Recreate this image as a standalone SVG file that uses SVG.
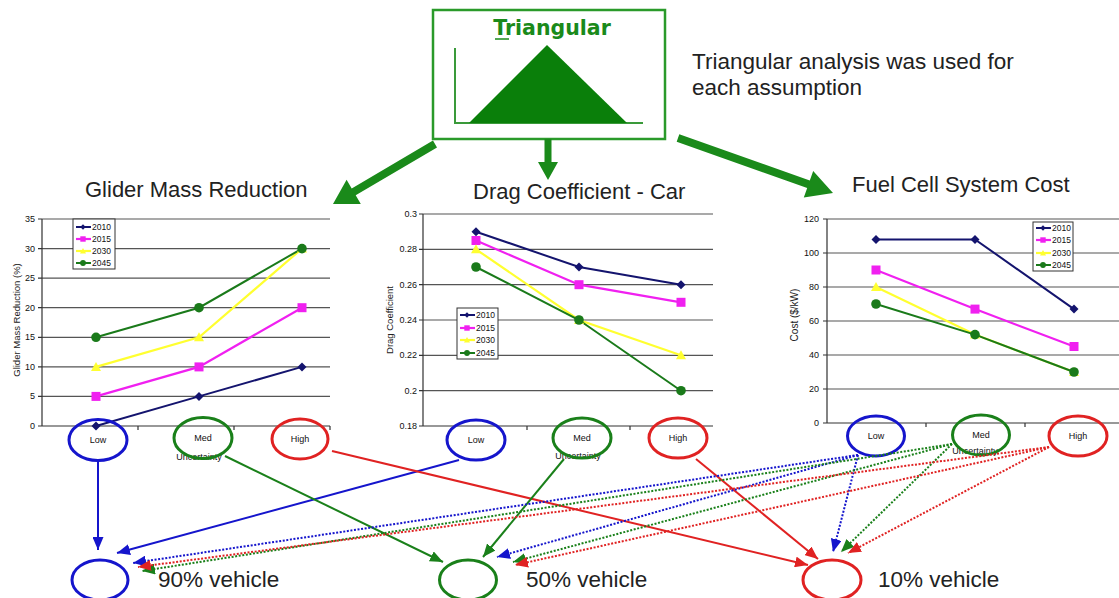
<svg xmlns="http://www.w3.org/2000/svg" width="1119" height="598" viewBox="0 0 1119 598">
<defs>
<style>
.t{font-family:"Liberation Sans",Arial,sans-serif;fill:#222}
.title{font-size:22px}
.ax{font-size:9px;fill:#111}
.lg{font-size:8.5px;fill:#111}
.cat{font-size:9px;fill:#111;text-anchor:middle}
.grid{stroke:#555;stroke-width:1.2}
.axis{stroke:#333;stroke-width:1.2;fill:none}
.box{fill:#fff;stroke:#333;stroke-width:1}
.s1{stroke:#14146e;fill:none;stroke-width:2}
.s2{stroke:#f020f0;fill:none;stroke-width:2.2}
.s3{stroke:#ffff30;fill:none;stroke-width:2.2}
.s4{stroke:#1a7a1a;fill:none;stroke-width:2}
.m1{fill:#14146e}.m2{fill:#f020f0}.m3{fill:#ffff30}.m4{fill:#1a7a1a}
.eb{fill:none;stroke:#1515cc;stroke-width:3}
.eg{fill:none;stroke:#1a801a;stroke-width:3}
.er{fill:none;stroke:#e02222;stroke-width:3}
.cb{stroke:#1515cc;stroke-width:2;fill:none}
.cg{stroke:#1a801a;stroke-width:2;fill:none}
.cr{stroke:#e02222;stroke-width:2;fill:none}
.dot{stroke-dasharray:2 1.6}
.big{fill:#1a8a1a}
</style>
<path id="dia" d="M0,-4.5 L4.5,0 L0,4.5 L-4.5,0z"/>
<rect id="sq" x="-4.5" y="-4.5" width="9" height="9"/>
<path id="tri" d="M0,-5 L5,4 L-5,4z"/>
<circle id="cir" r="4.8"/>
<marker id="hb" markerUnits="userSpaceOnUse" markerWidth="13" markerHeight="11" refX="13" refY="5.5" orient="auto"><path d="M0,0 L13,5.5 L0,11z" fill="#1515cc"/></marker>
<marker id="hg" markerUnits="userSpaceOnUse" markerWidth="13" markerHeight="11" refX="13" refY="5.5" orient="auto"><path d="M0,0 L13,5.5 L0,11z" fill="#1a801a"/></marker>
<marker id="hr" markerUnits="userSpaceOnUse" markerWidth="13" markerHeight="11" refX="13" refY="5.5" orient="auto"><path d="M0,0 L13,5.5 L0,11z" fill="#e02222"/></marker>
</defs>
<rect width="1119" height="598" fill="#fff"/>

<!-- Triangular box -->
<g id="triangular">
<rect x="433" y="10" width="232" height="129" fill="#fff" stroke="#2a9a2a" stroke-width="2.5"/>
<text x="552" y="35" text-anchor="middle" style="font-family:'DejaVu Sans',Verdana,sans-serif;font-weight:bold;font-size:20.5px;fill:#1a8a1a">Triangular</text>
<line x1="495" y1="39" x2="509" y2="39" stroke="#1a8a1a" stroke-width="1.5"/>
<polyline points="455,48 455,123 643,123" fill="none" stroke="#3a9a3a" stroke-width="2"/>
<polygon points="469,123 547,45 627,123" fill="#0a7f0a"/>
</g>
<g id="note">
<text class="t" x="692" y="69" style="font-size:22.5px">Triangular analysis was used for</text>
<text class="t" x="692" y="95" style="font-size:22.5px">each assumption</text>
</g>

<!-- Chart 1 -->
<g id="chart-glider">
<text class="t title" x="85" y="197">Glider Mass Reduction</text>
<g class="grid">
<line x1="42" y1="219" x2="330" y2="219"/><line x1="42" y1="248.6" x2="330" y2="248.6"/>
<line x1="42" y1="278.1" x2="330" y2="278.1"/><line x1="42" y1="307.7" x2="330" y2="307.7"/>
<line x1="42" y1="337.3" x2="330" y2="337.3"/><line x1="42" y1="366.9" x2="330" y2="366.9"/>
<line x1="42" y1="396.4" x2="330" y2="396.4"/>
</g>
<path class="axis" d="M42,219 V426 H330 M38,219 H42 M38,248.6 H42 M38,278.1 H42 M38,307.7 H42 M38,337.3 H42 M38,366.9 H42 M38,396.4 H42 M38,426 H42 M138,426 V430 M234,426 V430 M330,426 V430"/>
<g class="t ax" text-anchor="end">
<text x="35" y="222">35</text><text x="35" y="251.6">30</text><text x="35" y="281">25</text><text x="35" y="310.7">20</text>
<text x="35" y="340.3">15</text><text x="35" y="370">10</text><text x="35" y="399.4">5</text><text x="35" y="429">0</text>
</g>
<text class="t" transform="translate(20,320) rotate(-90)" text-anchor="middle" style="font-size:9.5px">Glider Mass Reduction (%)</text>
<polyline class="s1" points="96,426 199,396.4 302,366.9"/>
<polyline class="s2" points="96,396.4 199,366.9 302,307.7"/>
<polyline class="s3" points="96,366.9 199,337.3 302,248.6"/>
<polyline class="s4" points="96,337.3 199,307.7 302,248.6"/>
<g class="m1"><use href="#dia" x="96" y="426"/><use href="#dia" x="199" y="396.4"/><use href="#dia" x="302" y="366.9"/></g>
<g class="m2"><use href="#sq" x="96" y="396.4"/><use href="#sq" x="199" y="366.9"/><use href="#sq" x="302" y="307.7"/></g>
<g class="m3"><use href="#tri" x="96" y="366.9"/><use href="#tri" x="199" y="337.3"/><use href="#tri" x="302" y="248.6"/></g>
<g class="m4"><use href="#cir" x="96" y="337.3"/><use href="#cir" x="199" y="307.7"/><use href="#cir" x="302" y="248.6"/></g>
<rect class="box" x="73" y="219" width="42" height="50"/>
<line class="s1" x1="76" y1="227" x2="91" y2="227"/><use class="m1" href="#dia" transform="translate(83,227) scale(0.6)"/>
<line class="s2" x1="76" y1="239" x2="91" y2="239"/><use class="m2" href="#sq" transform="translate(83,239) scale(0.6)"/>
<line class="s3" x1="76" y1="251" x2="91" y2="251"/><use class="m3" href="#tri" transform="translate(83,251) scale(0.6)"/>
<line class="s4" x1="76" y1="263" x2="91" y2="263"/><use class="m4" href="#cir" transform="translate(83,263) scale(0.6)"/>
<g class="t lg"><text x="92" y="230">2010</text><text x="92" y="242">2015</text><text x="92" y="254">2030</text><text x="92" y="266">2045</text></g>
<text class="t cat" x="199" y="460">Uncertainty</text>
</g>

<!-- Chart 2 -->
<g id="chart-drag">
<text class="t title" x="473" y="199">Drag Coefficient - Car</text>
<g class="grid">
<line x1="423" y1="214" x2="713" y2="214"/><line x1="423" y1="249.3" x2="713" y2="249.3"/>
<line x1="423" y1="284.7" x2="713" y2="284.7"/><line x1="423" y1="320" x2="713" y2="320"/>
<line x1="423" y1="355.3" x2="713" y2="355.3"/><line x1="423" y1="390.7" x2="713" y2="390.7"/>
</g>
<path class="axis" d="M423,214 V426 H713 M419,214 H423 M419,249.3 H423 M419,284.7 H423 M419,320 H423 M419,355.3 H423 M419,390.7 H423 M419,426 H423 M527,426 V430 M630,426 V430"/>
<g class="t ax" text-anchor="end">
<text x="417" y="217">0.3</text><text x="417" y="252.3">0.28</text><text x="417" y="287.7">0.26</text><text x="417" y="323">0.24</text>
<text x="417" y="358.3">0.22</text><text x="417" y="393.7">0.2</text><text x="417" y="429">0.18</text>
</g>
<text class="t" transform="translate(393,320) rotate(-90)" text-anchor="middle" style="font-size:9.5px">Drag Coefficient</text>
<polyline class="s1" points="476,231.7 579,267 681,284.7"/>
<polyline class="s2" points="476,240.5 579,284.7 681,302.3"/>
<polyline class="s3" points="476,249.3 579,320 681,355.3"/>
<polyline class="s4" points="476,267 579,320 681,390.7"/>
<g class="m1"><use href="#dia" x="476" y="231.7"/><use href="#dia" x="579" y="267"/><use href="#dia" x="681" y="284.7"/></g>
<g class="m2"><use href="#sq" x="476" y="240.5"/><use href="#sq" x="579" y="284.7"/><use href="#sq" x="681" y="302.3"/></g>
<g class="m3"><use href="#tri" x="476" y="249.3"/><use href="#tri" x="579" y="320"/><use href="#tri" x="681" y="355.3"/></g>
<g class="m4"><use href="#cir" x="476" y="267"/><use href="#cir" x="579" y="320"/><use href="#cir" x="681" y="390.7"/></g>
<rect class="box" x="457" y="308" width="41" height="51"/>
<line class="s1" x1="460" y1="315" x2="475" y2="315"/><use class="m1" href="#dia" transform="translate(467,315) scale(0.6)"/>
<line class="s2" x1="460" y1="328" x2="475" y2="328"/><use class="m2" href="#sq" transform="translate(467,328) scale(0.6)"/>
<line class="s3" x1="460" y1="340" x2="475" y2="340"/><use class="m3" href="#tri" transform="translate(467,340) scale(0.6)"/>
<line class="s4" x1="460" y1="353" x2="475" y2="353"/><use class="m4" href="#cir" transform="translate(467,353) scale(0.6)"/>
<g class="t lg"><text x="476" y="318">2010</text><text x="476" y="331">2015</text><text x="476" y="343">2030</text><text x="476" y="356">2045</text></g>
<text class="t cat" x="578" y="459">Uncertainty</text>
</g>

<!-- Chart 3 -->
<g id="chart-fuelcell">
<text class="t title" x="852" y="192">Fuel Cell System Cost</text>
<g class="grid">
<line x1="827" y1="219" x2="1119" y2="219"/><line x1="827" y1="253" x2="1119" y2="253"/>
<line x1="827" y1="287" x2="1119" y2="287"/><line x1="827" y1="321" x2="1119" y2="321"/>
<line x1="827" y1="355" x2="1119" y2="355"/><line x1="827" y1="389" x2="1119" y2="389"/>
</g>
<path class="axis" d="M827,219 V423 H1119 M823,219 H827 M823,253 H827 M823,287 H827 M823,321 H827 M823,355 H827 M823,389 H827 M823,423 H827 M926,423 V427 M1025,423 V427"/>
<g class="t ax" text-anchor="end">
<text x="819" y="222">120</text><text x="819" y="256">100</text><text x="819" y="290">80</text><text x="819" y="324">60</text>
<text x="819" y="358">40</text><text x="819" y="392">20</text><text x="819" y="426">0</text>
</g>
<text class="t" transform="translate(798,315) rotate(-90)" text-anchor="middle" style="font-size:10px">Cost ($/kW)</text>
<polyline class="s1" points="876,239.4 975,239.4 1074,309.1"/>
<polyline class="s2" points="876,270 975,309.1 1074,346.5"/>
<polyline class="s3" points="876,287 975,334.6 1074,372"/>
<polyline class="s4" points="876,304 975,334.6 1074,372"/>
<g class="m1"><use href="#dia" x="876" y="239.4"/><use href="#dia" x="975" y="239.4"/><use href="#dia" x="1074" y="309.1"/></g>
<g class="m2"><use href="#sq" x="876" y="270"/><use href="#sq" x="975" y="309.1"/><use href="#sq" x="1074" y="346.5"/></g>
<g class="m3"><use href="#tri" x="876" y="287"/><use href="#tri" x="975" y="334.6"/><use href="#tri" x="1074" y="372"/></g>
<g class="m4"><use href="#cir" x="876" y="304"/><use href="#cir" x="975" y="334.6"/><use href="#cir" x="1074" y="372"/></g>
<rect class="box" x="1033" y="222" width="40" height="49"/>
<line class="s1" x1="1036" y1="228" x2="1051" y2="228"/><use class="m1" href="#dia" transform="translate(1043,228) scale(0.6)"/>
<line class="s2" x1="1036" y1="240" x2="1051" y2="240"/><use class="m2" href="#sq" transform="translate(1043,240) scale(0.6)"/>
<line class="s3" x1="1036" y1="253" x2="1051" y2="253"/><use class="m3" href="#tri" transform="translate(1043,253) scale(0.6)"/>
<line class="s4" x1="1036" y1="265" x2="1051" y2="265"/><use class="m4" href="#cir" transform="translate(1043,265) scale(0.6)"/>
<g class="t lg"><text x="1052" y="231">2010</text><text x="1052" y="243">2015</text><text x="1052" y="256">2030</text><text x="1052" y="268">2045</text></g>
<text class="t cat" x="975" y="454">Uncertainty</text>
</g>

<!-- category ellipses -->
<g id="glider-low"><ellipse class="eb" cx="98" cy="440" rx="29" ry="20.5"/><text class="t cat" x="98" y="443">Low</text></g>
<g id="glider-med"><ellipse class="eg" cx="203" cy="438" rx="29" ry="20.5"/><text class="t cat" x="203" y="441">Med</text></g>
<g id="glider-high"><ellipse class="er" cx="300" cy="439" rx="28" ry="20"/><text class="t cat" x="300" y="442">High</text></g>
<g id="drag-low"><ellipse class="eb" cx="476" cy="440" rx="29" ry="20"/><text class="t cat" x="476" y="443">Low</text></g>
<g id="drag-med"><ellipse class="eg" cx="582" cy="438" rx="29" ry="20"/><text class="t cat" x="582" y="441">Med</text></g>
<g id="drag-high"><ellipse class="er" cx="678" cy="438" rx="29" ry="20"/><text class="t cat" x="678" y="441">High</text></g>
<g id="fc-low"><ellipse class="eb" cx="876" cy="436" rx="28.5" ry="20"/><text class="t cat" x="876" y="439">Low</text></g>
<g id="fc-med"><ellipse class="eg" cx="981" cy="435" rx="28.5" ry="20"/><text class="t cat" x="981" y="438">Med</text></g>
<g id="fc-high"><ellipse class="er" cx="1078" cy="436" rx="29" ry="20"/><text class="t cat" x="1078" y="439">High</text></g>

<!-- vehicles -->
<g id="v90"><ellipse class="eb" cx="100" cy="580" rx="28" ry="20"/><text class="t" x="158" y="587" style="font-size:22.5px">90% vehicle</text></g>
<g id="v50"><ellipse class="eg" cx="468" cy="580" rx="28.5" ry="20"/><text class="t" x="526" y="587" style="font-size:22.5px">50% vehicle</text></g>
<g id="v10"><ellipse class="er" cx="832" cy="580" rx="29" ry="20"/><text class="t" x="878" y="587" style="font-size:22.5px">10% vehicle</text></g>

<!-- connectors -->
<g id="connectors">
<polygon class="big" points="437,147.4 355.7,195.2 360.8,203.9 333,204 346.6,179.7 351.7,188.4 433,140.6"/>
<polygon class="big" points="544.5,139 544.5,162 538,162 548,180 558,162 551.5,162 551.5,139"/>
<polygon class="big" points="676.7,141.8 807.2,188.1 803.8,197.5 833,193 813.2,171.1 809.8,180.5 679.3,134.2"/>

<line class="cb" x1="98" y1="462" x2="98" y2="550" marker-end="url(#hb)"/>
<line class="cb" x1="459" y1="460" x2="117" y2="553" marker-end="url(#hb)"/>
<line class="cg" x1="225" y1="456" x2="443" y2="562" marker-end="url(#hg)"/>
<line class="cr" x1="332" y1="451" x2="808" y2="565" marker-end="url(#hr)"/>
<line class="cg" x1="564" y1="459" x2="483" y2="557" marker-end="url(#hg)"/>
<line class="cr" x1="696" y1="459" x2="818" y2="559" marker-end="url(#hr)"/>

<line class="cb dot" x1="858" y1="455" x2="133" y2="563" marker-end="url(#hb)"/>
<line class="cb dot" x1="858" y1="455" x2="497" y2="557" marker-end="url(#hb)"/>
<line class="cb dot" x1="858" y1="455" x2="833" y2="552" marker-end="url(#hb)"/>
<line class="cg dot" x1="952" y1="444" x2="142" y2="571" marker-end="url(#hg)"/>
<line class="cg dot" x1="952" y1="444" x2="513" y2="562" marker-end="url(#hg)"/>
<line class="cg dot" x1="952" y1="444" x2="841" y2="552" marker-end="url(#hg)"/>
<line class="cr dot" x1="1049" y1="447" x2="138" y2="567" marker-end="url(#hr)"/>
<line class="cr dot" x1="1049" y1="447" x2="515" y2="565" marker-end="url(#hr)"/>
<line class="cr dot" x1="1049" y1="447" x2="848" y2="553" marker-end="url(#hr)"/>
</g>
</svg>
